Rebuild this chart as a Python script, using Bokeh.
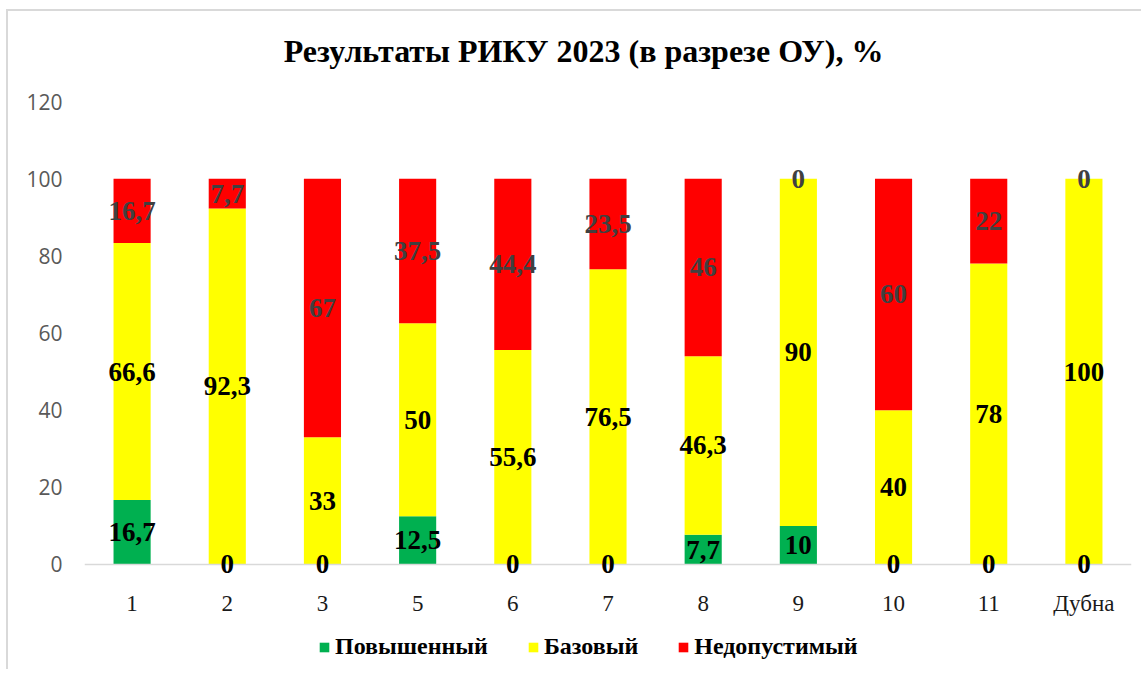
from bokeh.plotting import figure
from bokeh.models import (ColumnDataSource, FactorRange, Legend, LegendItem,
                          LabelSet, Label, Range1d, FixedTicker, Span)
from bokeh.core.properties import value
from bokeh.embed import file_html
from bokeh.resources import INLINE

# ---- data ----
categories = ["1", "2", "3", "5", "6", "7", "8", "9", "10", "11", "Дубна"]
povyshenny = [16.7, 0, 0, 12.5, 0, 0, 7.7, 10, 0, 0, 0]
bazovy = [66.6, 92.3, 33, 50, 55.6, 76.5, 46.3, 90, 40, 78, 100]
nedopustimy = [16.7, 7.7, 67, 37.5, 44.4, 23.5, 46, 0, 60, 22, 0]
series_names = ["Повышенный", "Базовый", "Недопустимый"]
series_keys = ["pov", "baz", "ned"]
colors = ["#00B050", "#FFFF00", "#FF0000"]
label_colors = ["#000000", "#000000", "#404040"]
y_ticks = [0, 20, 40, 60, 80, 100, 120]
title_text = "Результаты РИКУ 2023 (в разрезе ОУ), %"

SERIF = "Liberation Serif"

source = ColumnDataSource(dict(cat=categories, pov=povyshenny, baz=bazovy, ned=nedopustimy))

# frame covers the whole chart area (title, axis labels and legend drawn inside it)
p = figure(x_range=FactorRange(*categories, range_padding=0),
           y_range=Range1d(-25.66, 143.33),
           width=1135, height=660, title=None,
           output_backend="svg", toolbar_location=None,
           min_border_left=76, min_border_right=12,
           min_border_top=0, min_border_bottom=8)
p.styles = {"border-top": "2px solid #d9d9d9", "border-left": "2px solid #d9d9d9",
            "margin-top": "9px", "margin-left": "6px"}

# category axis line at 0
p.add_layout(Span(location=0, dimension="width", line_color="#d9d9d9", line_width=1.5))

renderers = p.vbar_stack(series_keys, x="cat", width=0.39, color=colors,
                         line_color=None, source=source)

# category labels under the axis line
cat_src = ColumnDataSource(dict(cat=categories, y=[0] * len(categories)))
p.text(x="cat", y="y", text="cat", source=cat_src, y_offset=39,
       text_align="center", text_baseline="middle",
       text_font=value(SERIF), text_font_size="23px", text_color="#1a1a1a")

# data labels at the middle of each segment
data_series = [povyshenny, bazovy, nedopustimy]
base = [0.0] * len(categories)
for vals, col in zip(data_series, label_colors):
    ys = [b + v / 2 for b, v in zip(base, vals)]
    txt = [("%g" % v).replace(".", ",") for v in vals]
    base = [b + v for b, v in zip(base, vals)]
    ls = ColumnDataSource(dict(cat=categories, y=ys, txt=txt))
    p.add_layout(LabelSet(x="cat", y="y", text="txt", source=ls,
                          text_align="center", text_baseline="middle",
                          text_font=SERIF, text_font_style="bold",
                          text_font_size="27px", text_color=col))

# title
p.add_layout(Label(x=5.243, y=133.2, text=title_text,
                   text_align="center", text_baseline="middle",
                   text_font=SERIF, text_font_style="bold",
                   text_font_size="32px", text_color="#000000"))

# axes
p.xgrid.grid_line_color = None
p.ygrid.grid_line_color = None
p.outline_line_color = None
p.xaxis.visible = False

p.yaxis.ticker = FixedTicker(ticks=y_ticks)
p.yaxis.axis_line_color = None
p.yaxis.major_tick_line_color = None
p.yaxis.minor_tick_line_color = None
p.yaxis.major_tick_out = 0
p.yaxis.major_tick_in = 0
p.yaxis.major_label_text_font = "Open Sans"
p.yaxis.major_label_text_font_size = "21px"
p.yaxis.major_label_text_color = "#595959"
p.yaxis.major_label_standoff = 22

legend = Legend(items=[LegendItem(label=n, renderers=[r]) for n, r in zip(series_names, renderers)],
                orientation="horizontal", location=(234, 3),
                glyph_width=12, glyph_height=12, spacing=39, label_standoff=5,
                label_text_font=SERIF, label_text_font_style="bold",
                label_text_font_size="24px", label_text_color="#000000",
                border_line_color=None, background_fill_alpha=0,
                padding=4, margin=0)
p.add_layout(legend, "center")

open("out.html", "w").write(file_html(p, INLINE))
